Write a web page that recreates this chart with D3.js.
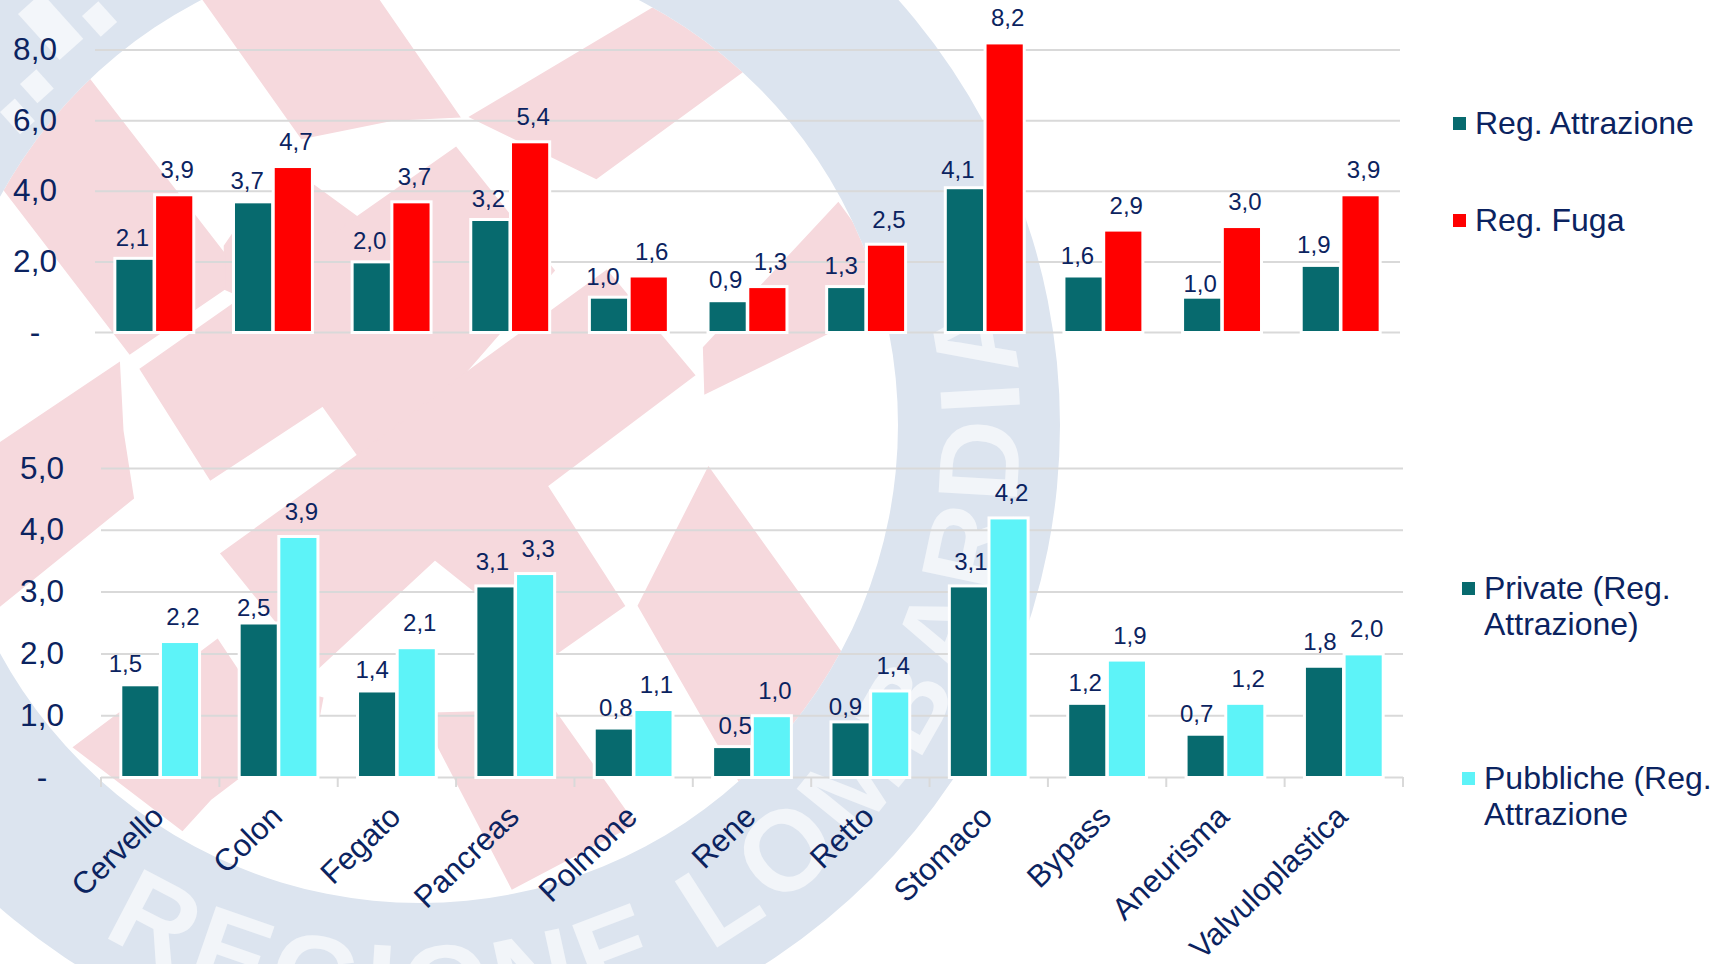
<!DOCTYPE html>
<html>
<head>
<meta charset="utf-8">
<script src="https://cdn.jsdelivr.net/npm/d3@7"></script>
<style>
  html, body { margin: 0; padding: 0; background: #fff; overflow: hidden; }
  text { font-family: "Liberation Sans", Arial, sans-serif; }
</style>
</head>
<body>
<div id="chart"></div>
<script>
// Data
const categories = ["Cervello", "Colon", "Fegato", "Pancreas", "Polmone", "Rene", "Retto", "Stomaco", "Bypass", "Aneurisma", "Valvuloplastica"];
const regAttrazione = [2.1, 3.7, 2.0, 3.2, 1.0, 0.9, 1.3, 4.1, 1.6, 1.0, 1.9];
const regFuga = [3.9, 4.7, 3.7, 5.4, 1.6, 1.3, 2.5, 8.2, 2.9, 3.0, 3.9];
const privateAttr = [1.5, 2.5, 1.4, 3.1, 0.8, 0.5, 0.9, 3.1, 1.2, 0.7, 1.8];
const pubblicheAttr = [2.2, 3.9, 2.1, 3.3, 1.1, 1.0, 1.4, 4.2, 1.9, 1.2, 2.0];
const topTicks = [0, 2, 4, 6, 8];
const bottomTicks = [0, 1, 2, 3, 4, 5];

const width = 1723;
const height = 964;
const navy = "#0b2360";
const gridColor = "#d9d9d9";
const teal = "#076a6e";
const red = "#ff0000";
const cyan = "#5df3f8";

const fmt = (d) => (d === 0 ? "-" : d.toFixed(1).replace(".", ","));

const svg = d3.select("#chart").append("svg")
  .attr("width", width)
  .attr("height", height)
  .style("display", "block");

// WATERMARK (faded regional logo behind the charts)
const logo = svg.append("g");
const ringCx = 420, ringCy = 425, ringOuter = 640, ringInner = 478;

svg.append("defs").append("clipPath").attr("id", "disc")
  .append("circle").attr("cx", ringCx).attr("cy", ringCy).attr("r", ringInner);

// outlines traced on a 1100x964 crop shown at 1568x1568, hence the conversion
const px = ([x, y]) => [x / 1.4255, y / 1.626];
const redPieces = [
  [[290, 0], [540, 0], [655, 190], [560, 195], [430, 225]],
  [[670, 190], [950, 0], [1100, 0], [1060, 115], [850, 290]],
  [[125, 125], [325, 420], [320, 470], [185, 575], [0, 300], [0, 230]],
  [[320, 400], [335, 375], [448, 302], [560, 395], [400, 510], [320, 470]],
  [[200, 600], [650, 240], [790, 440], [660, 610], [510, 740], [460, 660], [300, 780]],
  [[315, 900], [510, 740], [660, 610], [865, 440], [990, 610], [780, 790], [890, 985], [790, 1065], [620, 910], [450, 1090]],
  [[1003, 565], [1195, 330], [1290, 480], [1005, 640]],
  [[1010, 760], [1400, 1380], [1200, 1560], [910, 985]],
  [[600, 1160], [790, 1155], [905, 1340], [730, 1445]],
  [[0, 720], [170, 590], [175, 700], [190, 810], [0, 985]],
  [[105, 1215], [310, 1040], [345, 1100], [460, 1135], [455, 1165], [300, 1300], [260, 1350]],
];

logo.append("g").attr("clip-path", "url(#disc)")
  .selectAll("polygon")
  .data(redPieces)
  .join("polygon")
  .attr("points", (d) => d.map(px).join(" "))
  .attr("fill", "#f6d9dd")
  .attr("stroke", "#f6d9dd")
  .attr("stroke-width", 1.5);

logo.append("path")
  .attr("d", d3.arc()({ innerRadius: ringInner, outerRadius: ringOuter, startAngle: 0, endAngle: 2 * Math.PI }))
  .attr("transform", `translate(${ringCx},${ringCy})`)
  .attr("fill", "#dce4ef");

// ring lettering, runs left to right along the lower and right side
const textR = 600;
const arcFrom = (122 * Math.PI) / 180;
const arcTo = (-22 * Math.PI) / 180;
logo.append("defs").append("path")
  .attr("id", "ringText")
  .attr("d", `M${ringCx + textR * Math.cos(arcFrom)},${ringCy + textR * Math.sin(arcFrom)} A${textR},${textR} 0 0 0 ${ringCx + textR * Math.cos(arcTo)},${ringCy + textR * Math.sin(arcTo)}`);
logo.append("text")
  .attr("font-size", 114)
  .attr("font-weight", "bold")
  .attr("letter-spacing", 10)
  .attr("fill", "#fff")
  .attr("fill-opacity", 0.62)
  .append("textPath")
  .attr("href", "#ringText")
  .text("REGIONE LOMBARDIA");

// fragments of lettering at the upper left
logo.append("g").attr("fill", "#fff").attr("fill-opacity", 0.65)
  .selectAll("rect")
  .data([[18, 14, 32, 62], [82, 16, 22, 28], [20, 84, 22, 26], [0, 112, 20, 30]])
  .join("rect")
  .attr("x", (d) => d[0]).attr("y", (d) => d[1])
  .attr("width", (d) => d[2]).attr("height", (d) => d[3])
  .attr("transform", (d) => `rotate(-42 ${d[0]} ${d[1]})`);

// CHARTS
function drawPanel(cfg) {
  const { seriesA, seriesB, colorB, ticks, yRange, xRange, yMax, labelX, nudges } = cfg;

  const x = d3.scaleBand().domain(categories).range(xRange).paddingInner(0.36).paddingOuter(0.18);
  const x1 = d3.scaleBand().domain([0, 1]).range([0, x.bandwidth()]).paddingInner(0.09);
  const y = d3.scaleLinear().domain([0, yMax]).range(yRange);

  const g = svg.append("g");

  // Grid + tick labels
  const yAxis = g.append("g")
    .attr("transform", `translate(${xRange[0]},0)`)
    .call(d3.axisLeft(y).tickValues(ticks).tickFormat(fmt).tickSize(xRange[0] - xRange[1]).tickPadding(0));
  yAxis.select(".domain").remove();
  yAxis.selectAll(".tick line").attr("stroke", gridColor).attr("stroke-width", 2);
  yAxis.selectAll(".tick text")
    .attr("x", labelX - xRange[0])
    .attr("text-anchor", "middle")
    .attr("fill", navy)
    .attr("font-size", 31.5);

  // Bars
  [seriesA, seriesB].forEach((values, s) => {
    g.append("g")
      .selectAll("rect")
      .data(values)
      .join("rect")
      .attr("x", (d, i) => x(categories[i]) + x1(s))
      .attr("y", (d) => y(d) + 2)
      .attr("width", x1.bandwidth())
      .attr("height", (d) => y(0) - y(d) - 3)
      .attr("fill", s === 0 ? teal : colorB)
      .attr("stroke", "#fff")
      .attr("stroke-width", 6)
      .style("paint-order", "stroke");
  });

  // Value labels (hand placed in the original, so a few need a nudge)
  [seriesA, seriesB].forEach((values, s) => {
    const nudge = (i) => (s === 0 && nudges[i]) || [0, 0];
    g.append("g")
      .selectAll("text")
      .data(values)
      .join("text")
      .attr("x", (d, i) => x(categories[i]) + x1(s) + x1.bandwidth() / 2 + (s === 0 ? -2 : 3) + nudge(i)[0])
      .attr("y", (d, i) => y(d) - (s === 0 ? 12 : 16) + nudge(i)[1])
      .attr("text-anchor", "middle")
      .attr("fill", navy)
      .attr("font-size", 24)
      .text((d) => fmt(d));
  });

  return { x, y, g };
}

// Top panel
drawPanel({
  seriesA: regAttrazione,
  seriesB: regFuga,
  colorB: red,
  ticks: topTicks,
  yRange: [332, 49.5],
  xRange: [95, 1400],
  yMax: 8,
  labelX: 35,
  nudges: { 1: [-4, 0], 4: [-4, 0], 6: [-3, 0], 7: [-5, 3], 8: [-4, 0], 9: [0, 7], 10: [-5, 0] },
});

// Bottom panel
const bottom = drawPanel({
  seriesA: privateAttr,
  seriesB: pubblicheAttr,
  colorB: cyan,
  ticks: bottomTicks,
  yRange: [777, 468],
  xRange: [101, 1403],
  yMax: 5,
  labelX: 42,
  nudges: { 0: [-13, 0], 1: [-3, 5], 2: [-3, 0], 3: [-1, -3], 4: [4, 0], 5: [5, 0], 6: [-3, 6], 7: [4, -3], 9: [-7, 0], 10: [-2, -4] },
});

// Category ticks sit on the band boundaries
const step = bottom.x.step();
bottom.g.append("g")
  .selectAll("line")
  .data(d3.range(categories.length + 1))
  .join("line")
  .attr("x1", (d) => 101 + d * step)
  .attr("x2", (d) => 101 + d * step)
  .attr("y1", 777)
  .attr("y2", 787)
  .attr("stroke", gridColor)
  .attr("stroke-width", 2);

// Category labels
bottom.g.append("g")
  .selectAll("text")
  .data(categories)
  .join("text")
  .attr("transform", (d) => `translate(${bottom.x(d) + bottom.x.bandwidth() / 2 - 2},${811}) rotate(-44)`)
  .attr("text-anchor", "end")
  .attr("dy", "0.35em")
  .attr("fill", navy)
  .attr("font-size", 31)
  .text((d) => d);

// LEGENDS
const legendItems = [
  { color: teal, lines: ["Reg. Attrazione"], x: 1453, y: 123 },
  { color: red, lines: ["Reg. Fuga"], x: 1453, y: 220 },
  { color: teal, lines: ["Private (Reg.", "Attrazione)"], x: 1462, y: 588 },
  { color: cyan, lines: ["Pubbliche (Reg.", "Attrazione"], x: 1462, y: 778 },
];

const legend = svg.append("g")
  .selectAll("g")
  .data(legendItems)
  .join("g")
  .attr("transform", (d) => `translate(${d.x},${d.y})`);

legend.append("rect")
  .attr("x", 0).attr("y", -6)
  .attr("width", 13).attr("height", 13)
  .attr("fill", (d) => d.color);

legend.selectAll("text")
  .data((d) => d.lines)
  .join("text")
  .attr("x", 22)
  .attr("y", (d, i) => i * 36)
  .attr("dy", "0.35em")
  .attr("fill", navy)
  .attr("font-size", 32)
  .text((d) => d);
</script>
</body>
</html>
